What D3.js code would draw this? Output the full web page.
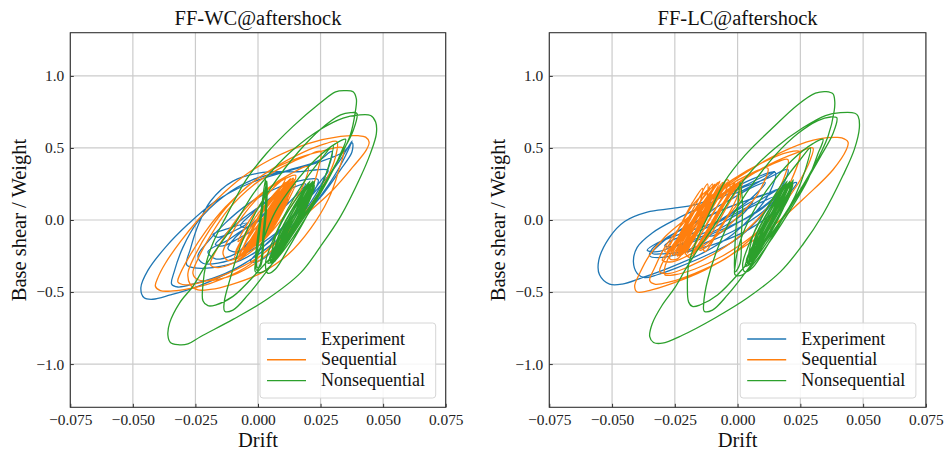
<!DOCTYPE html>
<html><head><meta charset="utf-8">
<script src="https://cdn.jsdelivr.net/npm/d3@7"></script>
<style>body{margin:0;background:#fff}svg{display:block}</style>
</head><body>
<svg id="c" width="945" height="455"></svg>
<script>
const xTicks=[-0.075,-0.05,-0.025,0,0.025,0.05,0.075];
const yTicks=[-1,-0.5,0,0.5,1];
const titles=["FF-WC@aftershock","FF-LC@aftershock"];
const seriesNames=["Experiment","Sequential","Nonsequential"];
const colors=["#1f77b4","#ff7f0e","#2ca02c"];

// Each series: list of hysteresis cycles, each cycle a list of [drift, base shear/weight]
// ---------- FF-WC ----------
const expWC=[
[[0.0377,0.535],[0.034,0.47],[0.024,0.40],[0.010,0.33],[-0.004,0.25],[-0.017,0.13],[-0.028,-0.03],[-0.037,-0.19],[-0.044,-0.35],[-0.0468,-0.47],[-0.0455,-0.54],[-0.042,-0.55],[-0.035,-0.52],[-0.024,-0.46],[-0.010,-0.35],[0.004,-0.19],[0.016,-0.01],[0.026,0.18],[0.033,0.35],[0.0375,0.47]],
[[0.0376,0.55],[0.033,0.42],[0.025,0.24],[0.015,0.05],[0.006,-0.12],[-0.001,-0.24],[-0.003,-0.29],[0.001,-0.28],[0.008,-0.18],[0.017,-0.01],[0.026,0.19],[0.033,0.38]],
[[0.0295,0.475],[0.024,0.41],[0.012,0.345],[-0.002,0.28],[-0.014,0.16],[-0.024,-0.01],[-0.030,-0.19],[-0.0335,-0.36],[-0.0345,-0.445],[-0.032,-0.465],[-0.025,-0.44],[-0.013,-0.37],[0.0,-0.24],[0.012,-0.07],[0.021,0.12],[0.027,0.31]],
[[0.028,0.345],[0.016,0.335],[0.002,0.33],[-0.010,0.27],[-0.019,0.13],[-0.024,-0.04],[-0.027,-0.2],[-0.0285,-0.31],[-0.026,-0.33],[-0.018,-0.33],[-0.007,-0.28],[0.004,-0.16],[0.013,0.0],[0.020,0.15],[0.025,0.27]],
[[0.024,0.28],[0.016,0.27],[0.006,0.21],[-0.004,0.11],[-0.013,-0.02],[-0.020,-0.15],[-0.024,-0.25],[-0.022,-0.30],[-0.016,-0.30],[-0.006,-0.24],[0.005,-0.12],[0.014,0.02],[0.021,0.16]],
[[0.019,0.25],[0.012,0.21],[0.003,0.12],[-0.006,0.01],[-0.013,-0.10],[-0.017,-0.17],[-0.014,-0.18],[-0.008,-0.13],[0.0,-0.05],[0.008,0.05],[0.014,0.15]],
[[0.006,0.04],[0.0,-0.01],[-0.007,-0.08],[-0.012,-0.14],[-0.020,-0.22],[-0.017,-0.27],[-0.011,-0.25],[-0.005,-0.19],[0.001,-0.1]],
[[0.012,0.14],[0.006,0.09],[-0.002,-0.02],[-0.009,-0.12],[-0.012,-0.2],[-0.008,-0.22],[-0.003,-0.14],[0.003,-0.05],[0.009,0.05]],
[[-0.004,-0.02],[-0.010,-0.08],[-0.016,-0.12],[-0.018,-0.10],[-0.012,-0.06]],
[[0.010,0.2],[0.004,0.14],[-0.002,0.05],[-0.007,-0.04],[-0.004,-0.05],[0.002,0.03],[0.007,0.12]]
];

const seqWC=[
[[0.040,0.585],[0.033,0.58],[0.020,0.53],[0.005,0.42],[-0.006,0.30],[-0.016,0.15],[-0.024,0.0],[-0.031,-0.15],[-0.037,-0.30],[-0.040,-0.40],[-0.041,-0.46],[-0.039,-0.49],[-0.034,-0.492],[-0.027,-0.475],[-0.019,-0.44],[-0.005,-0.33],[0.008,-0.14],[0.020,0.05],[0.030,0.21],[0.038,0.37],[0.0433,0.487],[0.0444,0.54],[0.043,0.575]],
[[0.0315,0.545],[0.027,0.53],[0.018,0.47],[0.008,0.38],[-0.003,0.25],[-0.013,0.09],[-0.021,-0.08],[-0.027,-0.24],[-0.031,-0.37],[-0.032,-0.43],[-0.029,-0.45],[-0.022,-0.43],[-0.012,-0.37],[0.0,-0.26],[0.011,-0.10],[0.020,0.08],[0.027,0.27],[0.031,0.44]],
[[0.034,0.50],[0.026,0.48],[0.013,0.41],[0.0,0.29],[-0.011,0.12],[-0.019,-0.06],[-0.025,-0.24],[-0.028,-0.37],[-0.027,-0.45],[-0.024,-0.485],[-0.019,-0.482],[-0.011,-0.45],[0.001,-0.37],[0.012,-0.24],[0.021,-0.06],[0.028,0.14],[0.032,0.33]],
[[0.025,0.475],[0.020,0.45],[0.010,0.37],[-0.002,0.24],[-0.012,0.07],[-0.019,-0.11],[-0.024,-0.27],[-0.026,-0.37],[-0.024,-0.415],[-0.019,-0.42],[-0.011,-0.39],[-0.001,-0.30],[0.008,-0.17],[0.016,0.0],[0.021,0.19],[0.024,0.35]],
[[0.020,0.37],[0.013,0.32],[0.004,0.22],[-0.005,0.08],[-0.012,-0.08],[-0.017,-0.22],[-0.019,-0.31],[-0.016,-0.33],[-0.010,-0.30],[-0.002,-0.21],[0.006,-0.07],[0.013,0.09],[0.018,0.24]],
[[0.015,0.31],[0.009,0.27],[0.001,0.17],[-0.006,0.03],[-0.011,-0.11],[-0.014,-0.23],[-0.012,-0.28],[-0.007,-0.25],[-0.001,-0.15],[0.005,-0.02],[0.010,0.12],[0.014,0.24]],
[[0.014,0.29],[0.009,0.20],[0.002,0.06],[-0.004,-0.08],[-0.008,-0.2],[-0.0095,-0.275],[-0.006,-0.23],[0.0,-0.11],[0.006,0.03],[0.011,0.17]],
[[0.011,0.26],[0.005,0.15],[-0.001,0.02],[-0.006,-0.12],[-0.009,-0.23],[-0.005,-0.19],[0.001,-0.06],[0.007,0.08],[0.010,0.18]],
[[0.014,0.27],[0.010,0.18],[0.004,0.05],[-0.002,-0.08],[-0.006,-0.19],[-0.008,-0.27],[-0.004,-0.22],[0.002,-0.1],[0.008,0.04],[0.012,0.16]],
[[0.011,0.29],[0.006,0.22],[0.001,0.11],[-0.004,-0.02],[-0.008,-0.15],[-0.006,-0.12],[-0.001,-0.01],[0.005,0.12],[0.009,0.22]],
[[0.012,0.27],[0.003,0.1],[-0.003,-0.08],[-0.0075,-0.26],[-0.001,-0.08],[0.005,0.1]],
[[0.0125,0.25],[0.0035,0.1],[-0.0025,-0.08],[-0.007,-0.24],[0.0005,-0.08],[0.0065,0.1]],
[[0.013,0.29],[0.005,0.1],[-0.001,-0.08],[-0.0065,-0.27],[0.001,-0.08],[0.007,0.1]],
[[0.0135,0.27],[0.0055,0.1],[-0.0005,-0.08],[-0.006,-0.25],[0.0025,-0.08],[0.0085,0.1]],
[[0.014,0.26],[0.007,0.1],[0.001,-0.08],[-0.0055,-0.24],[0.003,-0.08],[0.009,0.1]],
[[0.0145,0.28],[0.0075,0.1],[0.0015,-0.08],[-0.005,-0.23],[0.0045,-0.08],[0.0105,0.1]],
[[0.015,0.25],[0.009,0.1],[0.003,-0.08],[-0.0045,-0.22],[0.005,-0.08],[0.011,0.1]],
[[0.0128,0.28],[0.005,0.1],[-0.001,-0.08],[-0.0068,-0.265],[0.0,-0.08],[0.006,0.1]],
[[0.0138,0.27],[0.007,0.1],[0.001,-0.08],[-0.0058,-0.25],[0.002,-0.08],[0.008,0.1]],
[[0.0148,0.26],[0.009,0.1],[0.003,-0.08],[-0.0048,-0.23],[0.004,-0.08],[0.010,0.1]],
[[0.0132,0.24],[0.006,0.1],[0.0,-0.08],[-0.0062,-0.26],[0.0015,-0.08],[0.0075,0.1]],
[[0.0142,0.29],[0.008,0.1],[0.002,-0.08],[-0.0052,-0.235],[0.0035,-0.08],[0.0095,0.1]]
];

const nonWC=[
[[0.045,0.725],[0.040,0.728],[0.034,0.707],[0.0247,0.626],[0.014,0.487],[0.006,0.349],[-0.002,0.18],[-0.009,-0.02],[-0.0167,-0.206],[-0.022,-0.344],[-0.026,-0.46],[-0.0313,-0.575],[-0.0353,-0.714],[-0.036,-0.80],[-0.035,-0.85],[-0.032,-0.865],[-0.028,-0.86],[-0.023,-0.81],[-0.010,-0.69],[0.0036,-0.55],[0.017,-0.367],[0.025,-0.183],[0.033,0.025],[0.041,0.30],[0.045,0.466],[0.0473,0.60],[0.047,0.68]],
[[0.0393,0.84],[0.038,0.89],[0.035,0.898],[0.031,0.89],[0.0247,0.81],[0.014,0.65],[0.0033,0.46],[-0.0047,0.28],[-0.0127,0.025],[-0.018,-0.16],[-0.0207,-0.30],[-0.022,-0.45],[-0.022,-0.56],[-0.020,-0.595],[-0.017,-0.59],[-0.010,-0.53],[0.0007,-0.344],[0.0113,-0.136],[0.0207,0.095],[0.030,0.35],[0.0367,0.58],[0.039,0.764]],
[[0.0395,0.74],[0.037,0.745],[0.033,0.73],[0.025,0.63],[0.016,0.47],[0.007,0.27],[-0.001,0.05],[-0.007,-0.18],[-0.011,-0.40],[-0.0135,-0.57],[-0.0133,-0.633],[-0.010,-0.625],[-0.004,-0.52],[0.005,-0.32],[0.015,-0.07],[0.025,0.2],[0.033,0.45],[0.038,0.62]],
[[0.035,0.56],[0.031,0.53],[0.023,0.42],[0.014,0.24],[0.007,0.06],[0.002,-0.14],[-0.001,-0.30],[-0.001,-0.36],[0.002,-0.36],[0.007,-0.28],[0.014,-0.12],[0.021,0.07],[0.028,0.28],[0.033,0.46]],
[[0.030,0.52],[0.026,0.44],[0.019,0.28],[0.012,0.08],[0.006,-0.14],[0.003,-0.30],[0.004,-0.37],[0.007,-0.34],[0.012,-0.2],[0.018,-0.02],[0.024,0.18],[0.028,0.36]],
[[0.003,0.28],[0.0015,0.1],[0.0,-0.1],[-0.001,-0.28],[-0.0005,-0.35],[0.001,-0.3],[0.002,-0.1],[0.003,0.1]],
[[0.0035,0.27],[0.002,0.1],[0.0005,-0.1],[-0.0003,-0.33],[0.001,-0.32],[0.0025,-0.1],[0.0035,0.1]],
[[0.0225,0.27],[0.019,0.17],[0.014,0.03],[0.009,-0.12],[0.0055,-0.24],[0.004,-0.30],[0.0065,-0.28],[0.0105,-0.17],[0.015,-0.04],[0.0195,0.1],[0.022,0.22]],
[[0.0225,0.24],[0.0185,0.12],[0.0135,-0.02],[0.009,-0.16],[0.006,-0.27],[0.0085,-0.23],[0.0125,-0.11],[0.017,0.03],[0.021,0.16]],
[[0.022,0.26],[0.0185,0.16],[0.0135,0.02],[0.0085,-0.13],[0.0045,-0.28],[0.0065,-0.29],[0.0095,-0.18],[0.014,-0.05],[0.0185,0.09],[0.0215,0.2]],
[[0.0203,0.26],[0.0127,0.08],[0.0073,-0.1],[0.005,-0.29],[0.0093,-0.1],[0.0147,0.08]],
[[0.0208,0.27],[0.014,0.08],[0.0086,-0.1],[0.0055,-0.3],[0.01,-0.1],[0.0154,0.08]],
[[0.0213,0.26],[0.0147,0.08],[0.0093,-0.1],[0.006,-0.28],[0.0113,-0.1],[0.0167,0.08]],
[[0.0218,0.27],[0.016,0.08],[0.0106,-0.1],[0.0065,-0.29],[0.012,-0.1],[0.0174,0.08]],
[[0.0223,0.25],[0.0167,0.08],[0.0113,-0.1],[0.007,-0.27],[0.0133,-0.1],[0.0187,0.08]],
[[0.0205,0.265],[0.0138,0.08],[0.0084,-0.1],[0.0052,-0.3],[0.0092,-0.1],[0.0146,0.08]],
[[0.0215,0.255],[0.0158,0.08],[0.0104,-0.1],[0.0062,-0.28],[0.0112,-0.1],[0.0166,0.08]],
[[0.022,0.26],[0.0168,0.08],[0.0114,-0.1],[0.0068,-0.28],[0.0122,-0.1],[0.0176,0.08]],
[[0.0225,0.23],[0.0178,0.08],[0.0124,-0.1],[0.0075,-0.26],[0.0138,-0.1],[0.0192,0.08]]
];

// ---------- FF-LC ----------
const expLC=[
[[0.015,0.33],[0.004,0.27],[-0.006,0.18],[-0.016,0.11],[-0.026,0.08],[-0.036,0.055],[-0.045,-0.01],[-0.051,-0.12],[-0.0553,-0.28],[-0.055,-0.38],[-0.051,-0.445],[-0.046,-0.445],[-0.038,-0.40],[-0.027,-0.33],[-0.014,-0.23],[-0.002,-0.10],[0.007,0.05],[0.013,0.20]],
[[0.020,0.35],[0.012,0.29],[0.0,0.21],[-0.012,0.11],[-0.024,0.01],[-0.034,-0.09],[-0.040,-0.19],[-0.0415,-0.29],[-0.040,-0.37],[-0.037,-0.40],[-0.032,-0.38],[-0.024,-0.33],[-0.013,-0.25],[-0.001,-0.14],[0.008,0.0],[0.015,0.15]],
[[0.0235,0.26],[0.016,0.21],[0.006,0.15],[-0.006,0.07],[-0.018,-0.03],[-0.028,-0.12],[-0.034,-0.20],[-0.035,-0.25],[-0.030,-0.26],[-0.020,-0.22],[-0.008,-0.16],[0.004,-0.07],[0.014,0.05],[0.020,0.17]],
[[0.018,0.22],[0.010,0.17],[-0.002,0.10],[-0.014,0.01],[-0.024,-0.08],[-0.031,-0.17],[-0.034,-0.23],[-0.030,-0.235],[-0.022,-0.22],[-0.013,-0.16],[-0.002,-0.08],[0.008,0.03],[0.014,0.12]],
[[0.011,0.26],[0.005,0.22],[-0.002,0.15],[-0.010,0.07],[-0.016,-0.02],[-0.012,-0.05],[-0.006,0.01],[0.0,0.08],[0.006,0.16]],
[[0.019,0.24],[0.012,0.17],[0.004,0.09],[-0.006,0.0],[-0.016,-0.08],[-0.026,-0.14],[-0.029,-0.18],[-0.024,-0.18],[-0.016,-0.14],[-0.008,-0.08],[0.001,-0.01],[0.009,0.07],[0.015,0.16]],
[[0.0145,0.16],[0.009,0.12],[0.002,0.06],[-0.006,-0.02],[-0.012,-0.08],[-0.016,-0.11],[-0.010,-0.11],[-0.004,-0.06],[0.003,0.01],[0.010,0.09]],
[[0.006,0.13],[0.0,0.07],[-0.008,-0.01],[-0.020,-0.08],[-0.032,-0.16],[-0.036,-0.21],[-0.032,-0.22],[-0.025,-0.18],[-0.015,-0.12],[-0.005,-0.04],[0.002,0.04]],
[[0.0147,0.337],[0.010,0.30],[0.003,0.24],[-0.004,0.18],[0.0,0.19],[0.007,0.25],[0.012,0.30]]
];

const seqLC=[
[[0.0387,0.573],[0.033,0.565],[0.0273,0.54],[0.014,0.44],[0.0007,0.30],[-0.010,0.164],[-0.0193,0.025],[-0.0287,-0.113],[-0.0353,-0.25],[-0.039,-0.37],[-0.041,-0.46],[-0.040,-0.50],[-0.0353,-0.49],[-0.026,-0.44],[-0.0127,-0.344],[0.0007,-0.206],[0.014,-0.044],[0.0273,0.164],[0.038,0.349],[0.0433,0.487],[0.044,0.54],[0.0415,0.57]],
[[0.0247,0.476],[0.020,0.47],[0.010,0.40],[-0.002,0.28],[-0.013,0.13],[-0.022,-0.03],[-0.029,-0.19],[-0.033,-0.33],[-0.035,-0.42],[-0.033,-0.445],[-0.027,-0.43],[-0.017,-0.37],[-0.005,-0.27],[0.006,-0.12],[0.015,0.06],[0.021,0.26],[0.0245,0.42]],
[[0.030,0.50],[0.024,0.47],[0.012,0.38],[0.0,0.25],[-0.011,0.10],[-0.020,-0.06],[-0.026,-0.21],[-0.029,-0.33],[-0.029,-0.38],[-0.025,-0.38],[-0.017,-0.34],[-0.006,-0.25],[0.006,-0.11],[0.016,0.06],[0.024,0.25],[0.029,0.42]],
[[0.020,0.42],[0.013,0.38],[0.002,0.28],[-0.009,0.14],[-0.018,-0.02],[-0.025,-0.17],[-0.030,-0.30],[-0.031,-0.36],[-0.027,-0.37],[-0.019,-0.32],[-0.008,-0.22],[0.003,-0.08],[0.012,0.09],[0.018,0.27]],
[[0.012,0.36],[0.005,0.32],[-0.005,0.22],[-0.014,0.08],[-0.021,-0.07],[-0.027,-0.21],[-0.030,-0.28],[-0.026,-0.29],[-0.018,-0.23],[-0.009,-0.12],[0.0,0.02],[0.008,0.18]],
[[-0.004,0.28],[-0.009,0.18],[-0.014,0.03],[-0.018,-0.12],[-0.021,-0.22],[-0.019,-0.26],[-0.016,-0.2],[-0.012,-0.07],[-0.007,0.08],[-0.003,0.22]],
[[0.002,0.27],[-0.003,0.17],[-0.008,0.03],[-0.012,-0.11],[-0.015,-0.21],[-0.012,-0.18],[-0.007,-0.05],[-0.002,0.09]],
[[-0.010,0.25],[-0.014,0.15],[-0.019,0.0],[-0.023,-0.14],[-0.026,-0.24],[-0.023,-0.23],[-0.018,-0.11],[-0.013,0.04]],
[[-0.014,0.22],[-0.018,0.12],[-0.022,-0.01],[-0.026,-0.14],[-0.029,-0.22],[-0.026,-0.21],[-0.021,-0.09],[-0.016,0.06]],
[[-0.006,0.26],[-0.011,0.14],[-0.016,-0.01],[-0.021,-0.15],[-0.024,-0.25],[-0.021,-0.21],[-0.016,-0.08],[-0.011,0.07]],
[[0.0,0.24],[-0.005,0.13],[-0.010,-0.01],[-0.014,-0.14],[-0.013,-0.22],[-0.009,-0.12],[-0.004,0.02],[0.001,0.15]],
[[-0.012,0.25],[-0.016,0.13],[-0.021,-0.03],[-0.025,-0.17],[-0.027,-0.27],[-0.024,-0.27],[-0.019,-0.15],[-0.014,0.0]],
[[-0.028,-0.22],[-0.024,-0.08],[-0.018,0.1],[-0.011,0.22],[-0.016,0.1],[-0.022,-0.08]],
[[-0.026,-0.24],[-0.022,-0.08],[-0.016,0.1],[-0.009,0.25],[-0.014,0.1],[-0.020,-0.08]],
[[-0.024,-0.25],[-0.020,-0.08],[-0.014,0.1],[-0.007,0.27],[-0.012,0.1],[-0.018,-0.08]],
[[-0.022,-0.24],[-0.018,-0.08],[-0.012,0.1],[-0.005,0.26],[-0.010,0.1],[-0.016,-0.08]],
[[-0.020,-0.23],[-0.016,-0.08],[-0.010,0.1],[-0.003,0.27],[-0.008,0.1],[-0.014,-0.08]],
[[-0.018,-0.22],[-0.014,-0.08],[-0.008,0.1],[-0.001,0.26],[-0.006,0.1],[-0.012,-0.08]],
[[-0.016,-0.2],[-0.012,-0.08],[-0.006,0.1],[0.001,0.25],[-0.004,0.1],[-0.010,-0.08]],
[[-0.025,-0.245],[-0.0205,-0.08],[-0.0145,0.1],[-0.008,0.26],[-0.0135,0.1],[-0.0195,-0.08]],
[[-0.021,-0.235],[-0.0165,-0.08],[-0.0105,0.1],[-0.004,0.265],[-0.0095,0.1],[-0.0155,-0.08]],
[[-0.017,-0.21],[-0.0125,-0.08],[-0.0065,0.1],[0.0,0.255],[-0.0055,0.1],[-0.0115,-0.08]],
[[-0.023,-0.22],[-0.019,-0.08],[-0.013,0.1],[-0.006,0.24],[-0.011,0.1],[-0.017,-0.08]]
];

const nonLC=[
[[0.0467,0.741],[0.041,0.745],[0.035,0.725],[0.026,0.64],[0.015,0.50],[0.006,0.35],[-0.002,0.17],[-0.009,-0.03],[-0.016,-0.21],[-0.021,-0.35],[-0.025,-0.47],[-0.030,-0.59],[-0.034,-0.72],[-0.035,-0.81],[-0.0335,-0.85],[-0.030,-0.855],[-0.022,-0.80],[-0.009,-0.68],[0.004,-0.54],[0.017,-0.36],[0.026,-0.17],[0.034,0.04],[0.042,0.31],[0.0465,0.49],[0.0485,0.64],[0.048,0.72]],
[[0.0387,0.822],[0.038,0.875],[0.0353,0.891],[0.031,0.88],[0.024,0.80],[0.014,0.64],[0.003,0.45],[-0.005,0.27],[-0.012,0.02],[-0.017,-0.17],[-0.0195,-0.31],[-0.020,-0.46],[-0.0195,-0.57],[-0.018,-0.60],[-0.015,-0.59],[-0.008,-0.52],[0.002,-0.34],[0.012,-0.13],[0.021,0.10],[0.030,0.36],[0.036,0.58],[0.0385,0.76]],
[[0.0395,0.71],[0.037,0.715],[0.032,0.69],[0.024,0.60],[0.015,0.45],[0.006,0.25],[-0.002,0.03],[-0.008,-0.20],[-0.012,-0.42],[-0.0135,-0.58],[-0.0133,-0.633],[-0.010,-0.625],[-0.004,-0.52],[0.005,-0.32],[0.015,-0.07],[0.025,0.2],[0.033,0.44],[0.038,0.60]],
[[0.034,0.56],[0.030,0.53],[0.022,0.42],[0.013,0.24],[0.006,0.05],[0.001,-0.15],[-0.001,-0.32],[-0.001,-0.38],[0.002,-0.38],[0.007,-0.29],[0.014,-0.12],[0.021,0.07],[0.028,0.28],[0.032,0.46]],
[[0.029,0.50],[0.025,0.42],[0.018,0.26],[0.011,0.06],[0.005,-0.15],[0.002,-0.31],[0.003,-0.36],[0.006,-0.33],[0.011,-0.2],[0.017,-0.02],[0.023,0.17],[0.027,0.35]],
[[0.001,0.26],[0.0,0.08],[-0.0008,-0.1],[-0.0012,-0.25],[-0.001,-0.36],[0.001,-0.3],[0.0015,-0.1],[0.002,0.1]],
[[0.0222,0.279],[0.0185,0.17],[0.0135,0.03],[0.0085,-0.12],[0.0045,-0.25],[0.003,-0.32],[0.0055,-0.30],[0.0095,-0.18],[0.014,-0.04],[0.0185,0.1],[0.021,0.22]],
[[0.022,0.25],[0.018,0.12],[0.013,-0.02],[0.0085,-0.17],[0.0055,-0.29],[0.008,-0.24],[0.012,-0.11],[0.0165,0.03],[0.0205,0.16]],
[[0.021,0.26],[0.0175,0.16],[0.0125,0.02],[0.0075,-0.13],[0.0035,-0.29],[0.0055,-0.3],[0.0085,-0.18],[0.013,-0.05],[0.0175,0.09],[0.0205,0.2]],
[[0.0193,0.26],[0.0117,0.08],[0.0063,-0.1],[0.004,-0.3],[0.0083,-0.1],[0.0137,0.08]],
[[0.0198,0.27],[0.013,0.08],[0.0076,-0.1],[0.0045,-0.31],[0.009,-0.1],[0.0144,0.08]],
[[0.0203,0.26],[0.0137,0.08],[0.0083,-0.1],[0.005,-0.29],[0.0103,-0.1],[0.0157,0.08]],
[[0.0208,0.27],[0.015,0.08],[0.0096,-0.1],[0.0055,-0.3],[0.011,-0.1],[0.0164,0.08]],
[[0.0213,0.25],[0.0157,0.08],[0.0103,-0.1],[0.006,-0.28],[0.0123,-0.1],[0.0177,0.08]],
[[0.0195,0.265],[0.0128,0.08],[0.0074,-0.1],[0.0042,-0.31],[0.0082,-0.1],[0.0136,0.08]],
[[0.0205,0.255],[0.0148,0.08],[0.0094,-0.1],[0.0052,-0.29],[0.0102,-0.1],[0.0156,0.08]],
[[0.021,0.26],[0.0158,0.08],[0.0104,-0.1],[0.0058,-0.29],[0.0112,-0.1],[0.0166,0.08]],
[[0.0215,0.23],[0.0168,0.08],[0.0114,-0.1],[0.0065,-0.27],[0.0128,-0.1],[0.0182,0.08]]
];

const panels=[
  {title:titles[0], series:[expWC,seqWC,nonWC], left:70.3, width:375.4},
  {title:titles[1], series:[expLC,seqLC,nonLC], left:549.3, width:376.6}
];
const plotTop=32.7, plotBottom=407.3;
const FONT='"Liberation Serif","Times New Roman",serif';
const svg=d3.select("#c");
const fx=d3.format(".3f"), fy=d3.format(".1f");

panels.forEach((p,pi)=>{
  const x=d3.scaleLinear().domain([-0.075,0.075]).range([p.left,p.left+p.width]);
  const y=d3.scaleLinear().domain([-1.3,1.3]).range([plotBottom,plotTop]);
  const g=svg.append("g");
  const cid="clip"+pi;
  g.append("clipPath").attr("id",cid).append("rect")
    .attr("x",p.left).attr("y",plotTop).attr("width",p.width).attr("height",plotBottom-plotTop);
  g.append("g").selectAll("line").data(xTicks).join("line")
    .attr("x1",d=>x(d)).attr("x2",d=>x(d)).attr("y1",plotTop).attr("y2",plotBottom)
    .attr("stroke","#cbcbcb").attr("stroke-width",1.2);
  g.append("g").selectAll("line").data(yTicks).join("line")
    .attr("y1",d=>y(d)).attr("y2",d=>y(d)).attr("x1",p.left).attr("x2",p.left+p.width)
    .attr("stroke","#cbcbcb").attr("stroke-width",1.2);
  const line=d3.line().x(d=>x(d[0])).y(d=>y(d[1])).curve(d3.curveCatmullRomClosed.alpha(0.5));
  const sg=g.append("g").attr("clip-path",`url(#${cid})`);
  p.series.forEach((s,si)=>{
    sg.append("path").attr("d",s.map(loop=>line(loop)).join(" ")).attr("fill","none")
      .attr("stroke",colors[si]).attr("stroke-width",1.3).attr("stroke-linejoin","round");
  });
  const ax=g.append("g").attr("transform",`translate(0,${plotBottom})`)
    .call(d3.axisBottom(x).tickValues(xTicks).tickFormat(fx).tickSizeInner(-3.5).tickSizeOuter(0).tickPadding(6.5));
  const ay=g.append("g").attr("transform",`translate(${p.left},0)`)
    .call(d3.axisLeft(y).tickValues(yTicks).tickFormat(fy).tickSizeInner(-3.5).tickSizeOuter(0).tickPadding(6));
  [ax,ay].forEach(a=>{
    a.select(".domain").remove();
    a.selectAll(".tick line").attr("stroke","#333").attr("stroke-width",1);
    a.selectAll("text").attr("font-family",FONT).attr("font-size",15.4).attr("fill","#222");
  });
  g.append("rect").attr("x",p.left).attr("y",plotTop).attr("width",p.width).attr("height",plotBottom-plotTop)
    .attr("fill","none").attr("stroke","#333").attr("stroke-width",1.1);
  const cx=p.left+p.width/2;
  g.append("text").attr("x",cx).attr("y",24.5).attr("text-anchor","middle")
    .attr("font-family",FONT).attr("font-size",20.5).attr("fill","#111").text(p.title);
  g.append("text").attr("x",cx).attr("y",447).attr("text-anchor","middle")
    .attr("font-family",FONT).attr("font-size",20.5).attr("fill","#111").text("Drift");
  g.append("text").attr("transform",`translate(${p.left-44.5},${(plotTop+plotBottom)/2}) rotate(-90)`)
    .attr("text-anchor","middle").attr("font-family",FONT).attr("font-size",20.5).attr("fill","#111")
    .text("Base shear / Weight");
  const lx=p.left+p.width-185.7, ly=323;
  const lg=g.append("g");
  lg.append("rect").attr("x",lx).attr("y",ly).attr("width",175.7).attr("height",75).attr("rx",3)
    .attr("fill","#fff").attr("fill-opacity",0.85).attr("stroke","#d6d6d6").attr("stroke-width",1);
  seriesNames.forEach((n,i)=>{
    const yy=ly+16+i*20.8;
    lg.append("line").attr("x1",lx+7).attr("x2",lx+46).attr("y1",yy).attr("y2",yy)
      .attr("stroke",colors[i]).attr("stroke-width",1.4);
    lg.append("text").attr("x",lx+61).attr("y",yy+5.5).attr("font-family",FONT).attr("font-size",18)
      .attr("fill","#111").text(n);
  });
});
</script>
</body></html>
